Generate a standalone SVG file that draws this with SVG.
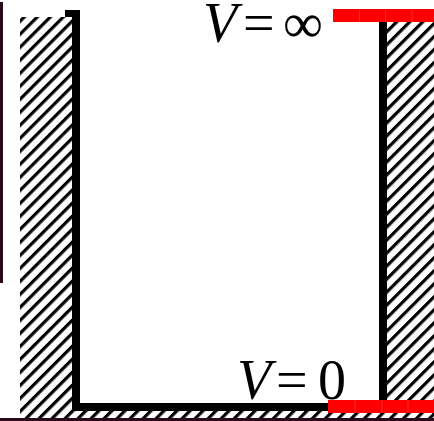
<svg xmlns="http://www.w3.org/2000/svg" width="434" height="421" viewBox="0 0 434 421">
  <style>
    .hatchfill { fill: url(#hatch); }
    .bg { fill: #ffffff; }
    .wall { fill: #000000; }
    .red { fill: #ff0000; }
    .seam { stroke: #ff3030; stroke-width: 0.8; }
    .edge { fill: #2b0a1e; }
    .lbl { font-family: "Liberation Serif", "Times New Roman", serif; font-size: 56px; fill: #000; }
    .it { font-style: italic; }
  </style>
  <defs>
    <pattern id="hatch" patternUnits="userSpaceOnUse" width="9.2" height="9.2" patternTransform="rotate(45)">
      <rect x="0" y="0" width="3.2" height="9.2" fill="#000"/>
    </pattern>
  </defs>
  <rect class="bg" x="0" y="0" width="434" height="421"/>

  <g id="frame-edges">
    <rect class="edge" x="0" y="2" width="3" height="281"/>
    <rect class="edge" x="0" y="418" width="434" height="3"/>
  </g>

  <g id="left-wall">
    <rect class="hatchfill" x="20" y="17" width="52" height="401"/>
    <rect class="wall" x="65" y="10" width="15" height="7"/>
    <rect class="wall" x="72" y="17" width="8" height="394"/>
  </g>

  <g id="floor">
    <rect class="hatchfill" x="72" y="411" width="362" height="7"/>
    <rect class="wall" x="72" y="403" width="258" height="8"/>
  </g>

  <g id="right-wall">
    <rect class="hatchfill" x="387" y="22" width="47" height="389"/>
    <rect class="wall" x="379" y="20" width="8" height="382"/>
  </g>

  <g id="top-potential">
    <rect class="red" x="333" y="9" width="101" height="13"/>
    <line class="seam" x1="359.5" y1="9" x2="359.5" y2="22"/>
    <line class="seam" x1="385.5" y1="9" x2="385.5" y2="22"/>
    <line class="seam" x1="412" y1="9" x2="412" y2="22"/>
    <text class="lbl" y="42"><tspan class="it" x="203">V</tspan><tspan x="243">=</tspan><tspan x="283">∞</tspan></text>
  </g>

  <g id="bottom-potential">
    <rect class="red" x="328" y="400" width="106" height="13"/>
    <line class="seam" x1="355" y1="400" x2="355" y2="413"/>
    <line class="seam" x1="382" y1="400" x2="382" y2="413"/>
    <line class="seam" x1="408" y1="400" x2="408" y2="413"/>
    <text class="lbl" y="399"><tspan class="it" x="237">V</tspan><tspan x="276">=</tspan><tspan x="318">0</tspan></text>
  </g>
</svg>
